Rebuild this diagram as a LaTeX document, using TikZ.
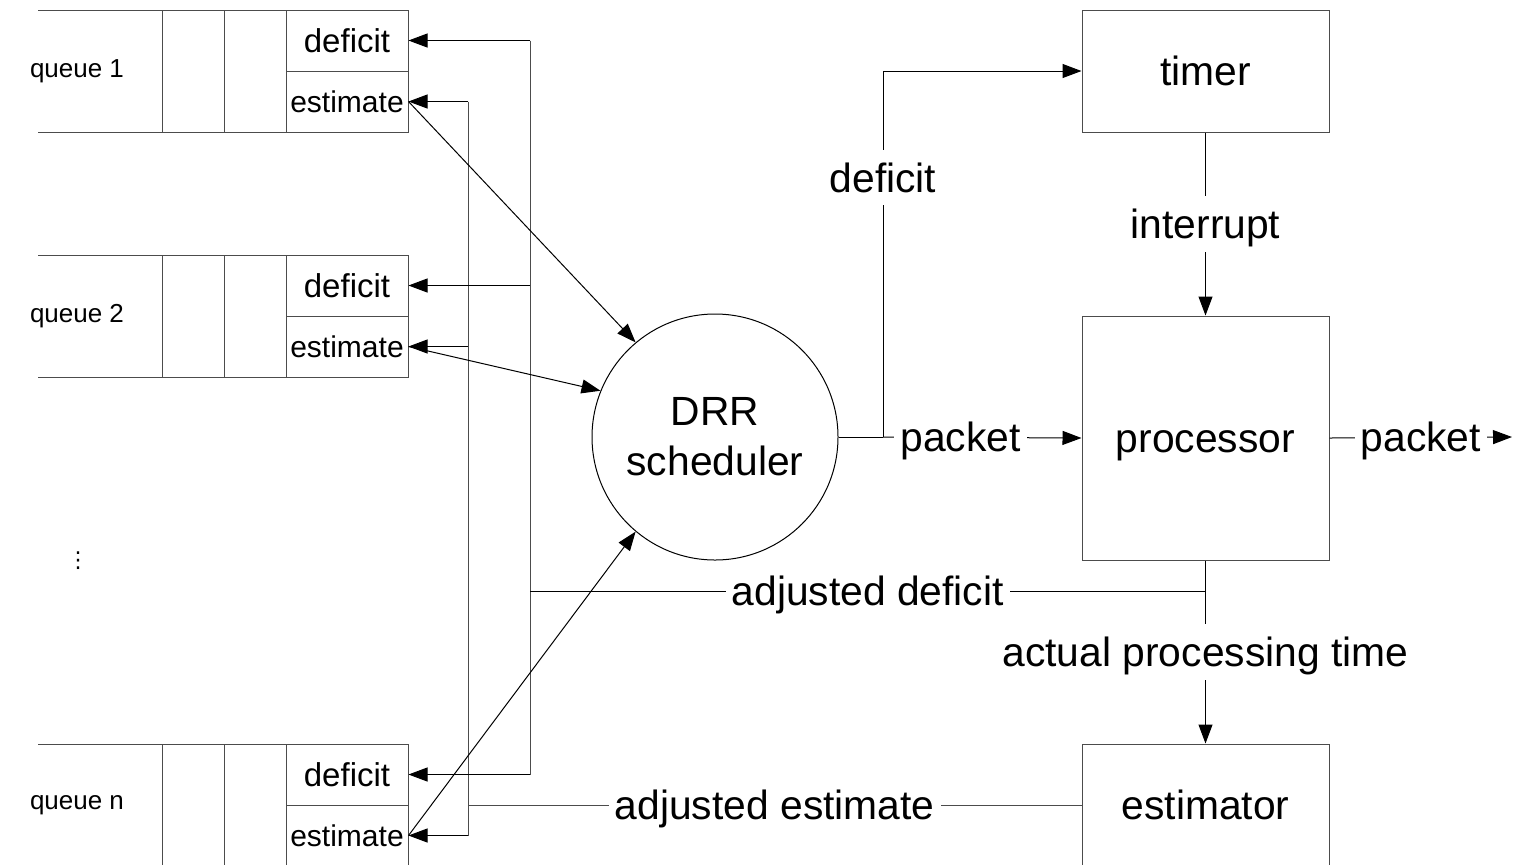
\documentclass[tikz,border=0pt]{standalone}
\usepackage{fontspec}
\setmainfont{Liberation Sans}
\newfontfamily\dotsfont{DejaVu Sans}
\usetikzlibrary{positioning}
\usetikzlibrary{arrows.meta}

\newcommand{\bigfont}{\fontsize{20.4}{25}\selectfont}
\newcommand{\deffont}{\fontsize{16.5}{19}\selectfont}
\newcommand{\estfont}{\fontsize{15}{18}\selectfont}
\newcommand{\queuefont}{\fontsize{13}{15}\selectfont}

\tikzset{
  box/.style = {draw=black!70, line width=0.5pt},
  cell/.style = {box, minimum width=61pt, minimum height=30.5pt, inner sep=0pt},
  unit/.style = {box, minimum width=123.5pt, inner sep=0pt, font=\bigfont,
    text height=19pt, text depth=4.6pt},
  wire/.style = {line width=0.5pt},
  arr/.style = {wire, -{Triangle[length=9.5pt,width=7pt]}},
  lbl/.style = {fill=white, inner xsep=3pt, inner ysep=2pt, font=\bigfont,
    text height=19pt, text depth=4.6pt},
}

\begin{document}
\begin{tikzpicture}[x=0.5pt, y=-0.5pt]
    \useasboundingbox (0,0) rectangle (1515,864);

    \foreach \qy/\q in {10/1, 255/2, 744/n} {
        \draw[box] (38,\qy) -- (286,\qy) (38,\qy+122) -- (286,\qy+122);
        \draw[box] (162,\qy) -- (162,\qy+122) (224,\qy) -- (224,\qy+122);
        \node[cell, font=\deffont] (def\q) at (347,\qy+30.5) {deficit};
        \node[cell, font=\estfont] (est\q) at (347,\qy+91.5) {estimate};
        \node[font=\queuefont] (name\q) at (77,\qy+61) {queue \q};
      }
    \node[font=\dotsfont\fontsize{11}{13}\selectfont] (dots) at (78,561) {⋮};

    \node[circle, draw, line width=0.5pt, minimum size=123pt, inner sep=0pt,
      align=center, font=\bigfont] (drr) at (715,437) {DRR\\scheduler};

    \node[unit, minimum height=61pt] (timer) at (1205.5,71) {timer};
    \node[unit, minimum height=122pt] (proc) at (1205.5,438) {processor};
    \node[unit, minimum height=61pt] (estim) at (1205.5,805) {estimator};

    \coordinate (dbus) at (530,0);
    \coordinate (ebus) at (468,0);
    \coordinate (split) at (883,437);
    \coordinate (adj) at (1205.5,591);
    \coordinate (out) at (1512,437);

    \draw[box] (def1.east -| dbus) -- (defn.east -| dbus);
    \draw[box] (est1.east -| ebus) -- (estn.east -| ebus);
    \foreach \q in {1,2,n} {
        \draw[arr] (def\q.east -| dbus) -- (def\q.east);
        \draw[arr] (est\q.east -| ebus) -- (est\q.east);
      }
    \draw[arr] (est1.east) -- (drr.130);
    \draw[arr] (est2.east) -- (drr.158);
    \draw[arr] (estn.east) -- (drr.230);

    \draw[wire] (drr.east) -- (split);
    \draw[arr] (split) -- node[lbl, pos=0.708] {deficit} (split |- timer.west) -- (timer.west);
    \draw[arr] (split) -- node[lbl, pos=0.39] {packet} (proc.west);
    \draw[arr] (timer.south) -- node[lbl] {interrupt} (proc.north);
    \draw[arr] (proc.east) -- node[lbl] {packet} (out);
    \draw[arr] (proc.south) -- node[lbl] {actual processing time} (estim.north);
    \draw[wire] (adj) -- node[lbl] {adjusted deficit} (adj -| dbus);
    \draw[box] (estim.west) -- node[lbl] {adjusted estimate} (estim.west -| ebus);

  \end{tikzpicture}
\end{document}
